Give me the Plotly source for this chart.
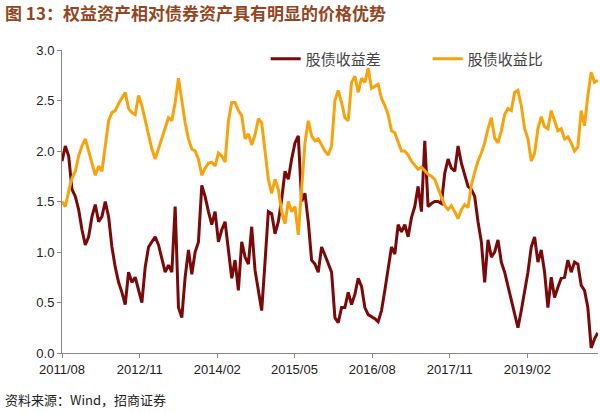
import pandas as pd
import plotly.graph_objects as go

# Sample dates: regular grid from Aug 2011 to Mar 2020
dates = pd.date_range("2011-08-01", "2020-03-22", periods=162)

# 股债收益差 (equity-bond yield spread)
spread = [
    1.90, 2.05, 1.95, 1.62, 1.55, 1.42, 1.22, 1.07, 1.15, 1.35,
    1.47, 1.30, 1.35, 1.50, 1.35, 1.05, 0.85, 0.70, 0.60, 0.48,
    0.80, 0.70, 0.75, 0.62, 0.50, 0.85, 1.05, 1.10, 1.15, 1.07,
    0.94, 0.80, 0.87, 0.80, 1.45, 0.45, 0.35, 0.75, 1.02, 0.78,
    1.00, 1.10, 1.66, 1.55, 1.40, 1.27, 1.40, 1.10, 1.22, 1.30,
    1.02, 0.74, 0.92, 0.62, 1.10, 0.95, 0.88, 1.25, 0.82, 0.60,
    0.42, 0.90, 1.40, 1.38, 1.18, 1.30, 1.52, 1.80, 1.72, 1.92,
    2.08, 2.15, 1.50, 1.58, 1.30, 0.92, 0.88, 0.80, 1.05, 0.97,
    0.88, 0.80, 0.35, 0.30, 0.45, 0.45, 0.60, 0.48, 0.58, 0.74,
    0.66, 0.45, 0.38, 0.36, 0.34, 0.31, 0.42, 0.62, 0.82, 1.05,
    0.98, 1.27, 1.20, 1.27, 1.15, 1.34, 1.45, 1.65, 1.40, 2.10,
    1.45, 1.48, 1.50, 1.50, 1.48, 1.78, 1.92, 1.83, 1.80, 2.05,
    1.88, 1.76, 1.65, 1.62, 1.55, 1.30, 1.10, 0.70, 1.12, 0.95,
    1.00, 1.12, 0.90, 0.80, 0.66, 0.55, 0.40, 0.25, 0.42, 0.62,
    0.80, 1.05, 1.15, 0.90, 1.02, 0.80, 0.45, 0.75, 0.55, 0.65,
    0.74, 0.75, 0.92, 0.80, 0.90, 0.88, 0.67, 0.62, 0.45, 0.05,
    0.14, 0.20,
]

# 股债收益比 (equity-bond yield ratio)
ratio = [
    1.50, 1.45, 1.60, 1.73, 1.80, 1.95, 2.05, 2.12, 2.00, 1.88,
    1.76, 1.85, 1.80, 2.05, 2.30, 2.38, 2.40, 2.47, 2.52, 2.58,
    2.42, 2.38, 2.36, 2.55, 2.45, 2.30, 2.15, 2.02, 1.92, 2.02,
    2.12, 2.22, 2.33, 2.30, 2.48, 2.72, 2.50, 2.28, 2.12, 2.02,
    2.00, 1.92, 1.76, 1.83, 1.88, 1.89, 1.85, 1.98, 1.95, 1.89,
    2.30, 2.48, 2.48, 2.40, 2.35, 2.12, 2.17, 2.06, 2.16, 2.32,
    2.28, 1.98, 1.72, 1.58, 1.72, 1.62, 1.40, 1.28, 1.50, 1.40,
    1.45, 1.17, 1.60, 2.08, 2.30, 2.15, 2.10, 2.12, 2.06, 2.00,
    1.96, 2.05, 2.50, 2.60, 2.48, 2.33, 2.30, 2.68, 2.74, 2.58,
    2.72, 2.68, 2.82, 2.62, 2.64, 2.66, 2.52, 2.45, 2.36, 2.20,
    2.18, 2.08, 2.00, 2.00, 1.96, 1.90, 1.86, 1.82, 1.84, 1.80,
    1.77, 1.75, 1.72, 1.63, 1.55, 1.46, 1.42, 1.46, 1.40, 1.33,
    1.42, 1.47, 1.44, 1.66, 1.79, 1.90, 1.98, 2.08, 2.22, 2.33,
    2.13, 2.08, 2.20, 2.36, 2.42, 2.40, 2.58, 2.60, 2.45, 2.22,
    2.12, 1.90, 1.98, 2.22, 2.34, 2.24, 2.22, 2.40, 2.30, 2.20,
    2.22, 2.12, 2.14, 2.08, 2.00, 2.04, 2.40, 2.25, 2.55, 2.78,
    2.68, 2.70,
]

tick_vals = ["2011-08-01", "2012-11-01", "2014-02-01", "2015-05-01",
             "2016-08-01", "2017-11-01", "2019-02-01"]
tick_text = ["2011/08", "2012/11", "2014/02", "2015/05",
             "2016/08", "2017/11", "2019/02"]

title_text = "图 13：权益资产相对债券资产具有明显的价格优势"
source_text = "资料来源：Wind，招商证券"

fig = go.Figure()
fig.add_trace(go.Scatter(x=dates, y=spread, mode="lines", name="股债收益差",
                         line=dict(color="#7A0A0A", width=3)))
fig.add_trace(go.Scatter(x=dates, y=ratio, mode="lines", name="股债收益比",
                         line=dict(color="#F7A30E", width=3)))

fig.update_layout(
    width=600, height=413,
    margin=dict(l=62, r=2, t=50, b=60),
    paper_bgcolor="white", plot_bgcolor="white",
    font=dict(family="Liberation Sans, Noto Sans CJK SC", size=13, color="#222"),
    showlegend=True,
    legend=dict(orientation="h", x=0.38, y=1.025, xanchor="left", yanchor="top",
                font=dict(family="Noto Sans CJK SC", size=15, color="#444"),
                entrywidth=117, entrywidthmode="pixels",
                bgcolor="rgba(0,0,0,0)", itemwidth=30),
    xaxis=dict(range=["2011-08-01", "2020-03-23"], tickvals=tick_vals, ticktext=tick_text,
               showgrid=False, showline=True, linecolor="#888", linewidth=1,
               ticks="outside", tickcolor="#888", ticklen=4, zeroline=False,
               tickfont=dict(size=13, color="#222")),
    yaxis=dict(range=[0, 3], dtick=0.5, tickformat=".1f", showgrid=False,
               showline=True, linecolor="#888", linewidth=1, ticks="outside",
               tickcolor="#888", ticklen=4, zeroline=False,
               tickfont=dict(size=13, color="#222")),
    annotations=[
        dict(text="<b>" + title_text + "</b>", xref="paper", yref="paper",
             x=-0.11, y=1.125, xanchor="left", yanchor="middle", showarrow=False,
             font=dict(family="Noto Sans CJK SC", size=17, color="#94461E")),
        dict(text=source_text, xref="paper", yref="paper",
             x=-0.11, y=-0.155, xanchor="left", yanchor="middle", showarrow=False,
             font=dict(family="Noto Sans CJK SC, Liberation Sans", size=13, color="#222")),
    ],
)

fig.write_html("out.html")
